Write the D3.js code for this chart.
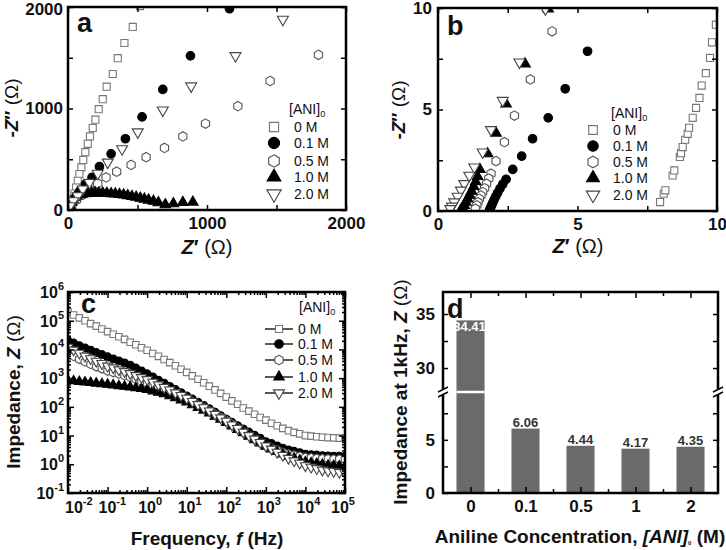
<!DOCTYPE html>
<html><head><meta charset="utf-8">
<script src="https://cdnjs.cloudflare.com/ajax/libs/d3/7.8.5/d3.min.js"></script>
<style>body{margin:0;background:#fff}svg{display:block}</style>
</head><body>
<svg id="chart" width="726" height="550"></svg>
<script>
// ---------------- DATA ----------------
const seriesLabels = ["0 M", "0.1 M", "0.5 M", "1.0 M", "2.0 M"];

// Panel a: Nyquist, [Z', -Z''] in ohm
const nyqA_0M = [[518,2009],[466,1804],[406,1645],[358,1496],[322,1340],[278,1215],[250,1092],[221,993],[197,890],[178,808],[158,725],[142,652],[125,570],[110,493],[96,420],[82,354],[70,288],[58,222],[46,162],[34,106],[22,56],[10,23]];
const nyqA_01M = [[1162,1983],[881,1519],[682,1188],[533,917],[413,702],[310,553],[226,427],[173,321],[125,255],[86,189],[58,122],[34,73],[14,33]];
const nyqA_05M = [[1802,1529],[1454,1271],[1222,1023],[989,851],[826,725],[694,612],[562,520],[454,444],[350,377],[274,321],[214,261],[154,205],[106,149],[62,99],[29,56],[10,23]];
const nyqA_10M = [[8,15],[15,45],[25,78],[35,103],[48,124],[62,140],[80,150],[100,157],[122,162],[145,165],[170,167],[195,168],[222,168],[250,167],[280,165],[310,162],[340,158],[370,153],[400,148],[430,141],[460,134],[490,126],[520,117],[550,108],[580,98],[615,86],[650,72],[700,52],[758,62],[826,75],[898,78]];
const nyqA_20M = [[1546,1877],[1205,1519],[886,1221],[682,983],[502,768],[389,602],[286,470],[214,361],[154,271],[106,205],[70,139],[38,89],[14,40]];

// Panel b: Nyquist, high-frequency region
const nyqB_0M = [[7.96,0.44],[8.09,0.85],[8.15,1.02],[8.41,1.75],[8.47,2.0],[8.67,2.66],[8.71,2.85],[8.77,3.15],[8.86,3.51],[8.95,3.8],[9.0,4.1],[9.13,4.59],[9.25,5.08],[9.37,5.57],[9.45,6.18],[9.6,6.79],[9.75,7.54],[9.82,8.31],[9.96,9.18]];
const nyqB_01M = [[5.36,7.87],[4.56,6.02],[3.95,4.59],[3.39,3.56],[3.0,2.7],[2.68,2.05],[2.44,1.56],[2.32,1.32],[2.22,1.1],[2.14,0.9],[2.07,0.72],[2.01,0.55],[1.96,0.4],[1.92,0.27],[1.88,0.15],[1.85,0.05]];
const nyqB_05M = [[4.09,8.85],[3.31,6.48],[2.74,4.7],[2.38,3.39],[2.08,2.46],[1.9,1.84],[1.82,1.6],[1.74,1.34],[1.67,1.12],[1.6,0.93],[1.54,0.76],[1.48,0.6],[1.43,0.43],[1.39,0.28],[1.34,0.11]];
const nyqB_10M = [[3.95,9.95],[3.12,7.25],[2.44,5.28],[2.08,3.84],[1.78,2.82],[1.5,2.05],[1.42,1.7],[1.35,1.45],[1.28,1.2],[1.2,0.98],[1.13,0.78],[1.06,0.6],[1.0,0.43],[0.94,0.28],[0.88,0.15],[0.82,0.05]];
const nyqB_20M = [[3.85,9.95],[2.92,7.33],[2.32,5.44],[1.9,4.0],[1.6,2.9],[1.3,2.16],[1.12,1.75],[0.94,1.34],[0.82,1.02],[0.7,0.72],[0.58,0.44],[0.5,0.23],[0.44,0.11]];

// Panel c: Bode magnitude
const freqHz = [0.01,0.01389,0.01931,0.02683,0.03728,0.05179,0.07197,0.1,0.1389,0.1931,0.2683,0.3728,0.5179,0.7197,1,1.389,1.931,2.683,3.728,5.179,7.197,10,13.89,19.31,26.83,37.28,51.79,71.97,100,138.9,193.1,268.3,372.8,517.9,719.7,1000,1389,1931,2683,3728,5179,7197,10000,13895,19307,26827,37276,51795,71969,100000];
const bode_0M = [199500,158500,125900,100000,79400,64600,51300,41700,33900,27500,22400,17800,14500,11500,9330,7240,5750,4470,3470,2690,2040,1585,1202,912,692,525,389,295,219,162,123,91.2,70.8,55.0,42.7,34.4,26.9,21.9,17.8,14.8,12.9,11.5,10.0,9.55,9.12,8.71,8.51,8.32,8.13,8.13];
const bode_01M = [19950,16600,13490,11220,9330,7760,6610,5500,4680,3980,3390,2820,2240,1780,1410,1100,851,661,513,398,309,240,186,145,112,85.1,64.6,49.0,37.2,28.8,21.9,17.0,13.2,10.2,8.13,6.06,5.25,4.37,3.63,3.16,2.82,2.51,2.24,2.14,2.09,2.0,1.95,1.91,1.91,1.86];
const bode_05M = [7080,5750,4570,3720,3020,2510,2140,1780,1580,1380,1230,1070,912,776,661,562,479,407,347,282,234,191,151,117,93.3,72.4,56.2,43.7,33.9,25.1,18.6,13.8,10.2,7.76,5.89,4.44,3.72,3.16,2.63,2.29,2.09,1.91,1.74,1.70,1.62,1.58,1.55,1.51,1.51,1.48];
const bode_10M = [832,794,759,724,692,661,631,603,575,537,513,490,457,427,398,355,316,282,240,204,170,145,117,93.3,75.9,60.3,46.8,36.3,28.2,21.4,16.2,12.3,9.33,7.08,5.50,4.17,3.39,2.75,2.24,1.86,1.62,1.38,1.20,1.12,1.05,0.977,0.912,0.891,0.871,0.851];
const bode_20M = [12020,9550,7410,5890,4790,3890,3240,2630,2290,1950,1700,1450,1230,1050,891,724,589,479,389,309,251,200,155,120,93.3,72.4,55.0,41.7,31.6,23.4,17.8,13.2,10.0,7.59,5.75,4.35,3.39,2.63,2.04,1.62,1.32,1.10,0.891,0.794,0.708,0.631,0.589,0.562,0.525,0.501];

// Panel d: impedance at 1 kHz
const barCats = ["0", "0.1", "0.5", "1", "2"];
const barVals = [34.41, 6.06, 4.44, 4.17, 4.35];
const barLabels = ["34.41", "6.06", "4.44", "4.17", "4.35"];

// Tick values
const ticksA = [0, 500, 1000, 1500, 2000];
const ticksB = [0, 2.5, 5, 7.5, 10];
const decadesX = [-2, -1, 0, 1, 2, 3, 4, 5];
const decadesY = [-1, 0, 1, 2, 3, 4, 5, 6];
const ticksDLow = [0, 2.5, 5, 7.5];
const ticksDHigh = [30, 32.5, 35];

// ---------------- DRAWING ----------------
const FONT = "'Liberation Sans', Arial, Helvetica, sans-serif";
const svg = d3.select("#chart").attr("font-family", FONT);

const hexSym = { draw(ctx, size) {
  const r = Math.sqrt(2 * size / (3 * Math.sqrt(3)));
  for (let i = 0; i < 6; i++) {
    const a = Math.PI / 3 * i - Math.PI / 2;
    const px = r * Math.cos(a), py = r * Math.sin(a);
    if (i) ctx.lineTo(px, py); else ctx.moveTo(px, py);
  }
  ctx.closePath();
}};
const triDown = { draw(ctx, size) {
  const y = -Math.sqrt(size / (Math.sqrt(3) * 3));
  const s3 = Math.sqrt(3);
  ctx.moveTo(0, -y * 2); ctx.lineTo(-s3 * y, y); ctx.lineTo(s3 * y, y); ctx.closePath();
}};

const styles = [
  {sym: d3.symbolSquare, size: 50, fill: "#fff", stroke: "#777"},
  {sym: d3.symbolCircle, size: 58, fill: "#000", stroke: "#000"},
  {sym: hexSym, size: 58, fill: "#fff", stroke: "#555"},
  {sym: d3.symbolTriangle, size: 48, fill: "#000", stroke: "#000"},
  {sym: triDown, size: 52, fill: "#fff", stroke: "#444"}
];

function frame(x0, y0, x1, y1) {
  svg.append("rect").attr("x", x0).attr("y", y0).attr("width", x1 - x0).attr("height", y1 - y0)
    .attr("fill", "none").attr("stroke", "#000").attr("stroke-width", 2.5);
}
function styleAxis(g, fs) {
  g.select(".domain").remove();
  g.selectAll("line").attr("stroke", "#000").attr("stroke-width", 1.5);
  g.selectAll("text").attr("font-size", fs || 17).attr("font-weight", "bold").attr("font-family", FONT).attr("fill", "#111");
}
function addAxis(axisFn, scale, tx, ty, values, size, pad, fmt, fs) {
  const ax = axisFn(scale).tickValues(values).tickSizeInner(-size).tickSizeOuter(0).tickPadding(pad)
    .tickFormat(fmt || (() => ""));
  const g = svg.append("g").attr("transform", `translate(${tx},${ty})`).call(ax);
  styleAxis(g, fs);
  return g;
}
function marker(g, st, x, y, scale) {
  g.append("path").attr("d", d3.symbol().type(st.sym).size(st.size * (scale || 1))())
    .attr("transform", `translate(${x},${y})`)
    .attr("fill", st.fill).attr("stroke", st.stroke).attr("stroke-width", 1.1);
}
// rich text: parts = [{t, w:'bold'|'normal', i:true, sub:true, fs}]
function rich(x, y, parts, fs, anchor, rotate) {
  const t = svg.append("text").attr("font-size", fs).attr("fill", "#111").attr("text-anchor", anchor || "middle");
  if (rotate) t.attr("transform", `translate(${x},${y}) rotate(-90)`).attr("dy", "0.35em");
  else t.attr("x", x).attr("y", y);
  parts.forEach(p => {
    const s = t.append("tspan").text(p.t).attr("font-weight", p.w || "bold");
    if (p.i) s.attr("font-style", "italic");
    if (p.sub) s.attr("font-size", p.fs || fs * 0.65).attr("dy", p.drop || fs * 0.3);
    if (p.back) s.attr("dy", -(p.back));
  });
  return t;
}
function legend(x0, yTitle, mx, tx, rows, fs, lineSeg, mscale) {
  rich(x0, yTitle, [{t: "[ANI]", w: "normal"}, {t: "0", w: "normal", sub: true, drop: 3}], fs, "start");
  rows.forEach((ry, i) => {
    const g = svg.append("g");
    if (lineSeg) g.append("line").attr("x1", mx - lineSeg).attr("x2", mx + lineSeg).attr("y1", ry).attr("y2", ry)
      .attr("stroke", "#000").attr("stroke-width", 1.3);
    marker(g, styles[i], mx, ry, mscale);
    svg.append("text").attr("x", tx).attr("y", ry).attr("dy", "0.36em").attr("font-size", fs)
      .attr("fill", "#111").text(seriesLabels[i]);
  });
}

// ---------- Panel a ----------
(function () {
  const L = 68, R = 346, T = 7, B = 210;
  const x = d3.scaleLinear().domain([0, 2000]).range([L, R]);
  const y = d3.scaleLinear().domain([0, 2000]).range([B, T]);
  svg.append("clipPath").attr("id", "clipA").append("rect").attr("x", L).attr("y", T).attr("width", R - L).attr("height", B - T);
  const g = svg.append("g").attr("clip-path", "url(#clipA)");
  [nyqA_0M, nyqA_01M, nyqA_05M, nyqA_10M, nyqA_20M].forEach((d, i) => {
    d.forEach(p => marker(g, styles[i], x(p[0]), y(p[1])));
  });
  const lab = d => (d % 1000 === 0 ? d : "");
  addAxis(d3.axisBottom, x, 0, B, ticksA, 5, 7, lab);
  addAxis(d3.axisTop, x, 0, T, ticksA, 5, 3);
  const gl = addAxis(d3.axisLeft, y, L, 0, ticksA, 5, 5, lab);
  gl.selectAll("text").filter(d => d === 2000).attr("dy", "0.45em");
  addAxis(d3.axisRight, y, R, 0, ticksA, 5, 3);
  frame(L, T, R, B);
  svg.append("text").attr("x", 77).attr("y", 32).attr("font-size", 27).attr("font-weight", "bold").attr("fill", "#111").text("a");
  legend(289, 114, 274, 294, [127, 143, 161, 177, 194], 14, 0, 1.7);
  rich(207, 254, [{t: "Z", i: true}, {t: "′ "}, {t: "(Ω)", w: "normal"}], 20, "middle");
  rich(11, 108, [{t: "-"}, {t: "Z", i: true}, {t: "″ "}, {t: "(Ω)", w: "normal"}], 19, "middle", true);
})();

// ---------- Panel b ----------
(function () {
  const L = 438, R = 717, T = 8, B = 211;
  const x = d3.scaleLinear().domain([0, 10]).range([L, R]);
  const y = d3.scaleLinear().domain([0, 10]).range([B, T]);
  svg.append("clipPath").attr("id", "clipB").append("rect").attr("x", L).attr("y", T).attr("width", R - L).attr("height", B - T);
  const g = svg.append("g").attr("clip-path", "url(#clipB)");
  [nyqB_0M, nyqB_01M, nyqB_05M, nyqB_10M, nyqB_20M].forEach((d, i) => {
    d.forEach(p => marker(g, styles[i], x(p[0]), y(p[1])));
  });
  const lab = d => (d % 5 === 0 ? d : "");
  addAxis(d3.axisBottom, x, 0, B, ticksB, 5, 7, lab);
  addAxis(d3.axisTop, x, 0, T, ticksB, 5, 3);
  addAxis(d3.axisLeft, y, L, 0, ticksB, 5, 6, lab);
  addAxis(d3.axisRight, y, R, 0, ticksB, 5, 3);
  frame(L, T, R, B);
  svg.append("text").attr("x", 447).attr("y", 35).attr("font-size", 27).attr("font-weight", "bold").attr("fill", "#111").text("b");
  legend(611, 118, 593, 613, [130, 146, 162, 178, 195], 14, 0, 1.5);
  rich(578, 253, [{t: "Z", i: true}, {t: "′ "}, {t: "(Ω)", w: "normal"}], 20, "middle");
  rich(398, 110, [{t: "-"}, {t: "Z", i: true}, {t: "″ "}, {t: "(Ω)", w: "normal"}], 19, "middle", true);
})();

// ---------- Panel c ----------
(function () {
  const L = 68, R = 345, T = 292, B = 493;
  const x = d3.scaleLog().domain([1e-2, 1e5]).range([L, R]);
  const y = d3.scaleLog().domain([1e-1, 1e6]).range([B, T]);
  const minorOf = decs => {
    const out = [];
    decs.slice(0, -1).forEach(d => { for (let m = 2; m <= 9; m++) out.push(m * Math.pow(10, d)); });
    return out;
  };
  const majX = decadesX.map(d => Math.pow(10, d)), majY = decadesY.map(d => Math.pow(10, d));
  const minX = minorOf(decadesX), minY = minorOf(decadesY);
  svg.append("clipPath").attr("id", "clipC").append("rect").attr("x", L).attr("y", T).attr("width", R - L).attr("height", B - T);
  const g = svg.append("g").attr("clip-path", "url(#clipC)");
  const line = d3.line().x(d => x(d[0])).y(d => y(d[1]));
  const sets = [bode_0M, bode_01M, bode_05M, bode_10M, bode_20M];
  sets.forEach(s => {
    g.append("path").attr("d", line(freqHz.map((f, k) => [f, s[k]]))).attr("fill", "none").attr("stroke", "#000").attr("stroke-width", 1);
  });
  sets.forEach((s, i) => {
    freqHz.forEach((f, k) => marker(g, styles[i], x(f), y(s[k]), 0.85));
  });
  [[d3.axisBottom, x, 0, B], [d3.axisTop, x, 0, T], [d3.axisLeft, y, L, 0], [d3.axisRight, y, R, 0]].forEach(([fn, sc, tx, ty]) => {
    const isX = sc === x;
    addAxis(fn, sc, tx, ty, isX ? majX : majY, 6, 3);
    addAxis(fn, sc, tx, ty, isX ? minX : minY, 3, 3);
  });
  frame(L, T, R, B);
  // tick labels with powers of ten
  decadesX.forEach((d, i) => {
    const shift = i === 0 ? 6 : (i === decadesX.length - 1 ? -5 : 0);
    const t = svg.append("text").attr("x", x(Math.pow(10, d)) + shift - 9).attr("y", 513)
      .attr("font-size", 16).attr("font-weight", "bold").attr("fill", "#111").attr("text-anchor", "start");
    t.append("tspan").text("10");
    t.append("tspan").text(d).attr("font-size", 11).attr("dy", -8);
  });
  decadesY.forEach(d => {
    const t = svg.append("text").attr("x", 64).attr("y", y(Math.pow(10, d)) + 6)
      .attr("font-size", 16).attr("font-weight", "bold").attr("fill", "#111").attr("text-anchor", "end");
    t.append("tspan").text("10");
    t.append("tspan").text(d).attr("font-size", 11).attr("dy", -8);
  });
  svg.append("text").attr("x", 81).attr("y", 313).attr("font-size", 27).attr("font-weight", "bold").attr("fill", "#111").text("c");
  legend(299, 312, 279, 298, [329, 344, 360, 377, 393], 14, 14, 1.0);
  rich(207, 545, [{t: "Frequency, "}, {t: "f", i: true}, {t: " (Hz)"}], 19, "middle");
  rich(13, 392, [{t: "Impedance, "}, {t: "Z", i: true}, {t: " (Ω)", w: "normal"}], 19, "middle", true);
})();

// ---------- Panel d ----------
(function () {
  const L = 443, R = 718, T = 292, B = 493, BRK = 392;
  const x = d3.scaleBand().domain(barCats).range([L, R]).paddingInner(0.49).paddingOuter(0.245);
  const yLow = d3.scaleLinear().domain([0, 9.5]).range([B, BRK]);
  const yHigh = d3.scaleLinear().domain([27.78, 37.04]).range([BRK, T]);
  const yAny = v => (v <= 9.5 ? yLow(v) : yHigh(v));
  barVals.forEach((v, i) => {
    svg.append("rect").attr("x", x(barCats[i])).attr("width", x.bandwidth())
      .attr("y", yAny(v)).attr("height", B - yAny(v)).attr("fill", "#6a6a6a");
    if (v > 9.5) {
      svg.append("line").attr("x1", x(barCats[i])).attr("x2", x(barCats[i]) + x.bandwidth())
        .attr("y1", BRK).attr("y2", BRK).attr("stroke", "#fff").attr("stroke-width", 2.5);
      svg.append("text").attr("x", x(barCats[i]) + x.bandwidth() / 2 - 1).attr("y", yAny(v) + 11)
        .attr("text-anchor", "middle").attr("font-size", 13).attr("font-weight", "bold").attr("fill", "#fff").text(barLabels[i]);
    } else {
      svg.append("text").attr("x", x(barCats[i]) + x.bandwidth() / 2).attr("y", yAny(v) - 2)
        .attr("text-anchor", "middle").attr("font-size", 13).attr("font-weight", "bold").attr("fill", "#333").text(barLabels[i]);
    }
  });
  const xPos = d3.scalePoint().domain(barCats).range([x(barCats[0]) + x.bandwidth() / 2, x(barCats[4]) + x.bandwidth() / 2]);
  addAxis(d3.axisBottom, xPos, 0, B, barCats, 6, 7, d => d);
  addAxis(d3.axisTop, xPos, 0, T, barCats, 6, 3);
  // minor ticks halfway between categories
  const step = xPos.step();
  const mids = barCats.slice(0, -1).map(c => xPos(c) + step / 2);
  const midScale = d3.scaleIdentity();
  addAxis(d3.axisBottom, midScale, 0, B, mids, 4, 3);
  addAxis(d3.axisTop, midScale, 0, T, mids, 4, 3);
  const labLow = d => (d % 5 === 0 ? d : "");
  addAxis(d3.axisLeft, yLow, L, 0, ticksDLow, 5, 8, labLow);
  addAxis(d3.axisRight, yLow, R, 0, ticksDLow, 5, 3);
  addAxis(d3.axisLeft, yHigh, L, 0, ticksDHigh, 5, 8, labLow);
  addAxis(d3.axisRight, yHigh, R, 0, ticksDHigh, 5, 3);
  frame(L, T, R, B);
  // axis break marks
  [L, R].forEach(ax => {
    svg.append("rect").attr("x", ax - 3).attr("y", BRK - 2).attr("width", 6).attr("height", 4).attr("fill", "#fff");
    [-2.5, 2.5].forEach(o => svg.append("line").attr("x1", ax - 5).attr("x2", ax + 5)
      .attr("y1", BRK + o + 2.5).attr("y2", BRK + o - 2.5).attr("stroke", "#000").attr("stroke-width", 1.5));
  });
  svg.append("text").attr("x", 447).attr("y", 318).attr("font-size", 27).attr("font-weight", "bold").attr("fill", "#111").text("d");
  rich(580, 543, [{t: "Aniline Concentration, "}, {t: "[ANI]", i: true}, {t: "0", sub: true, fs: 6, drop: 2}, {t: " (M)", back: 2}], 19, "middle");
  rich(400, 392, [{t: "Impedance at 1kHz, "}, {t: "Z", i: true}, {t: " (Ω)", w: "normal"}], 19, "middle", true);
})();
</script>
</body></html>
